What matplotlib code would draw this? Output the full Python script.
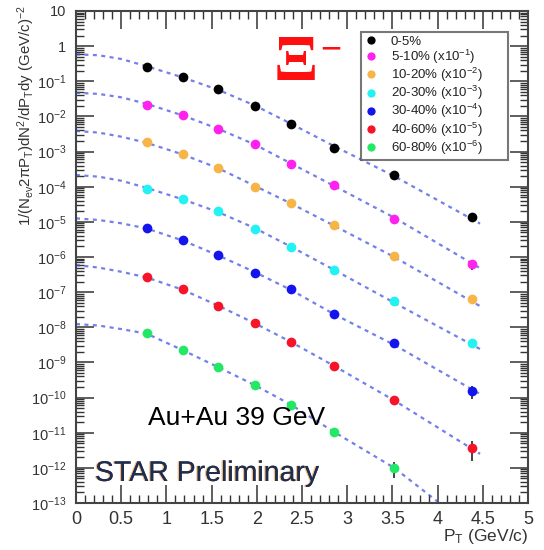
import matplotlib
matplotlib.use('Agg')
import matplotlib.pyplot as plt
from matplotlib.ticker import LogLocator, MultipleLocator, NullFormatter
import matplotlib.patheffects as pe

plt.rcParams['font.family'] = ['Liberation Sans', 'DejaVu Sans']
plt.rcParams['mathtext.fontset'] = 'custom'
plt.rcParams['mathtext.rm'] = 'Liberation Sans'
plt.rcParams['mathtext.it'] = 'Liberation Sans:italic'
plt.rcParams['mathtext.bf'] = 'Liberation Sans:bold'
plt.rcParams['mathtext.sf'] = 'Liberation Sans'

# ---------------- data ----------------
labels = ['0-5%', '5-10% (x10$^{-1}$)', '10-20% (x10$^{-2}$)', '20-30% (x10$^{-3}$)',
          '30-40% (x10$^{-4}$)', '40-60% (x10$^{-5}$)', '60-80% (x10$^{-6}$)']
colors = ['#000000', '#ff22ee', '#f7b547', '#22f2f2', '#1414ee', '#f51428', '#22e866']

pt = [0.78, 1.18, 1.57, 1.98, 2.38, 2.85, 3.52, 4.38]

y_0_5 = [0.26, 0.13, 0.0615, 0.0198, 5.97e-3, 1.29e-3, 2.19e-4, 1.40e-5]
y_5_10 = [0.0207, 0.0108, 4.3e-3, 1.68e-3, 4.34e-4, 1.12e-4, 1.20e-5, 6.2e-7]
y_10_20 = [1.84e-3, 8.4e-4, 3.47e-4, 1.0e-4, 3.5e-5, 7.98e-6, 1.07e-6, 6.5e-8]
y_20_30 = [8.8e-5, 4.55e-5, 2.0e-5, 6.4e-6, 1.96e-6, 4.27e-7, 5.6e-8, 3.5e-9]
y_30_40 = [6.7e-6, 3.04e-6, 1.14e-6, 3.5e-7, 1.23e-7, 2.34e-8, 3.5e-9, 1.53e-10]
y_40_60 = [2.64e-7, 1.20e-7, 4.1e-8, 1.30e-8, 3.9e-9, 8.1e-10, 8.5e-11, 3.7e-12]
y_60_80 = [6.7e-9, 2.25e-9, 7.2e-10, 2.28e-10, 6.1e-11, 1.07e-11, 9.8e-13]

e_0_5 = [0, 0, 0, 0, 0, 0, 0, 1.0e-6]
e_5_10 = [0, 0, 0, 0, 0, 0, 0, 1.9e-7]
e_10_20 = [0, 0, 0, 0, 0, 0, 0, 1.0e-8]
e_20_30 = [0, 0, 0, 0, 0, 0, 0, 6.0e-10]
e_30_40 = [0, 0, 0, 0, 0, 0, 0, 6.4e-11]
e_40_60 = [0, 0, 0, 0, 0, 0, 0, 2.1e-12]
e_60_80 = [0, 0, 0, 0, 0, 0, 4.8e-13]

# fit curves
fit_x = [0, 0.25, 0.5, 0.78, 1.18, 1.57, 1.98, 2.38, 2.85, 3.52, 4.47]
fit_0_5 = [0.586, 0.550, 0.431, 0.269, 0.129, 0.0575, 0.0204, 6.17e-3, 1.45e-3, 2.0e-4, 8.9e-6]
fit_5_10 = [0.0473, 0.0437, 0.035, 0.0229, 0.0107, 4.47e-3, 1.58e-3, 4.57e-4, 1.07e-4, 1.32e-5, 4.8e-7]
fit_10_20 = [3.85e-3, 3.47e-3, 2.65e-3, 1.78e-3, 8.3e-4, 3.39e-4, 1.05e-4, 3.31e-5, 7.9e-6, 1.0e-6, 4.0e-8]
fit_20_30 = [2.15e-4, 1.93e-4, 1.48e-4, 9.3e-5, 4.37e-5, 1.91e-5, 6.6e-6, 1.95e-6, 4.37e-7, 5.0e-8, 2.4e-9]
fit_30_40 = [1.26e-5, 1.13e-5, 9.1e-6, 6.5e-6, 2.95e-6, 1.12e-6, 3.7e-7, 1.15e-7, 2.4e-8, 3.16e-9, 1.26e-10]
fit_40_60 = [5.9e-7, 5.0e-7, 3.8e-7, 2.63e-7, 1.17e-7, 4.17e-8, 1.29e-8, 3.8e-9, 8.1e-10, 8.3e-11, 2.5e-12]
fit_60_80 = [1.24e-8, 1.12e-8, 8.9e-9, 6.6e-9, 2.24e-9, 7.4e-10, 2.24e-10, 6.2e-11, 1.07e-11, 1.0e-12, 1.26e-14]

ytick_vals = [1e1, 1e0, 1e-1, 1e-2, 1e-3, 1e-4, 1e-5, 1e-6, 1e-7, 1e-8, 1e-9, 1e-10, 1e-11, 1e-12, 1e-13]
ytick_labels = ['10', '1', '$10^{-1}$', '$10^{-2}$', '$10^{-3}$', '$10^{-4}$', '$10^{-5}$', '$10^{-6}$',
                '$10^{-7}$', '$10^{-8}$', '$10^{-9}$', '$10^{-10}$', '$10^{-11}$', '$10^{-12}$', '$10^{-13}$']
xtick_vals = [0, 0.5, 1, 1.5, 2, 2.5, 3, 3.5, 4, 4.5, 5]
xtick_labels = ['0', '0.5', '1', '1.5', '2', '2.5', '3', '3.5', '4', '4.5', '5']

series = [y_0_5, y_5_10, y_10_20, y_20_30, y_30_40, y_40_60, y_60_80]
errors = [e_0_5, e_5_10, e_10_20, e_20_30, e_30_40, e_40_60, e_60_80]
fits = [fit_0_5, fit_5_10, fit_10_20, fit_20_30, fit_30_40, fit_40_60, fit_60_80]

# ---------------- figure ----------------
fig = plt.figure(figsize=(5.44, 5.5), dpi=100)
ax = fig.add_axes([76 / 544, 1 - 503 / 550, 452 / 544, 492 / 550])
ax.set_yscale('log')

for f in fits:
    ax.plot(fit_x, f, color='#3d4fe0', lw=1.6, alpha=0.72, dashes=(1.8, 2.0), zorder=2)

handles = []
for ys, es, c in zip(series, errors, colors):
    xs = pt[:len(ys)]
    ax.errorbar(xs, ys, yerr=es, fmt='none', ecolor='#222222', elinewidth=1.2, capsize=0, zorder=3)
    h, = ax.plot(xs, ys, 'o', color=c, ms=7, mew=0, zorder=4)
    handles.append(h)

ax.set_xlim(0, 5)
ax.set_ylim(1e-13, 10)

ax.set_yticks(ytick_vals)
ax.set_yticklabels(ytick_labels)
ax.yaxis.set_minor_locator(LogLocator(base=10, subs=[2, 3, 4, 5, 6, 7, 8, 9], numticks=100))
ax.yaxis.set_minor_formatter(NullFormatter())
ax.set_xticks(xtick_vals)
ax.set_xticklabels(xtick_labels)
ax.xaxis.set_minor_locator(MultipleLocator(0.1))

ax.tick_params(which='both', direction='in', top=True, right=True, colors='#333333')
ax.tick_params(which='major', length=13, width=1.1)
ax.tick_params(which='minor', length=6, width=1.0)
ax.tick_params(axis='x', which='major', labelsize=13, pad=6, labelcolor='#333333')
ax.tick_params(axis='y', which='major', labelsize=10.5, pad=7, labelcolor='#333333')
for s in ax.spines.values():
    s.set_linewidth(1.5)
    s.set_color('#444444')

# axis labels
fig.text(26 / 544, 1 - 5 / 550,
         r'1/(N$_{\mathrm{ev}}$2$\mathrm{\pi}$P$_{\mathrm{T}}$)dN$^{2}$/dP$_{\mathrm{T}}$dy (GeV/c)$^{-2}$',
         rotation=90, ha='center', va='top', fontsize=10.8, color='#333333')
fig.text(528 / 544, 1 - 537 / 550, r'P$_{\mathrm{T}}$ (GeV/c)', ha='right', va='center',
         fontsize=12.5, color='#333333')

# legend
lx0 = (361 - 76) / 452
ly1 = 1 - (32 - 11) / 492
lw = (508 - 361) / 452
lh = (155 - 32) / 492
leg = ax.legend(handles, labels, loc='upper left', bbox_to_anchor=(lx0, ly1 - lh, lw, lh), mode='expand',
                fontsize=9.5, frameon=True, fancybox=False, handlelength=1.0, handletextpad=1.0,
                labelspacing=0.0, borderpad=0.25, markerscale=0.85, borderaxespad=0)
leg.get_frame().set_edgecolor('#555555')
leg.get_frame().set_linewidth(1.5)
for t in leg.get_texts():
    t.set_color('#222222')

# annotations
fig.text(274 / 544, 1 - 80 / 550, 'Ξ', family=['Liberation Serif', 'DejaVu Serif'], fontweight='bold',
         fontsize=47, color='#ff1010', ha='left', va='baseline')
fig.text(320 / 544, 1 - 59 / 550, '−', fontsize=26, color='#ff1010', ha='left', va='baseline')
fig.text(148 / 544, 1 - 425 / 550, 'Au+Au 39 GeV', fontsize=19, color='black', ha='left', va='baseline')
fig.text(95 / 544, 1 - 481 / 550, 'STAR Preliminary', fontsize=20.5, color='#1e2d52', ha='left', va='baseline',
         path_effects=[pe.withSimplePatchShadow(offset=(-1, 0), shadow_rgbFace='#f0a040', alpha=0.7), pe.Normal()])

fig.savefig('out.png', dpi=100)
